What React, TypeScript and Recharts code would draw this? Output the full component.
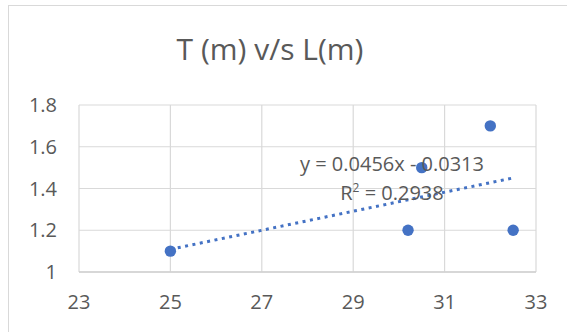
import { ScatterChart, Scatter, XAxis, YAxis, CartesianGrid } from 'recharts';

// measured lengths (x) vs periods (y)
const lengths = [25, 30.2, 30.5, 32, 32.5];
const periods = [1.1, 1.2, 1.5, 1.7, 1.2];

const xTicks = [23, 25, 27, 29, 31, 33];
const yTicks = [1, 1.2, 1.4, 1.6, 1.8];

// linear trendline as printed on the chart
const slope = 0.0456;
const intercept = -0.0313;
const trendRange = [25, 32.5];

const equationText = 'y = 0.0456x - 0.0313';
const r2Value = '0.2938';

const FONT = '"Open Sans", "Noto Sans", sans-serif';
const TEXT = '#595959';
const BLUE = '#4472C4';

const points = lengths.map((x, i) => ({ x, y: periods[i] }));
const trend = trendRange.map((x) => ({ x, y: slope * x + intercept }));

const Dot = (props: any) => {
  const { cx, cy } = props;
  if (cx == null || cy == null) return null;
  return <circle cx={cx} cy={cy} r={5.7} fill={BLUE} />;
};

export default function App() {
  return (
    <div
      style={{
        position: 'absolute',
        left: 0,
        top: 0,
        width: 567,
        height: 332,
        overflow: 'hidden',
        background: '#fff',
        fontFamily: FONT,
      }}
    >
      <div
        style={{
          position: 'absolute',
          left: 8,
          top: 5,
          width: 700,
          height: 500,
          border: '1.5px solid #d9d9d9',
        }}
      />
      <div
        style={{
          position: 'absolute',
          left: 0,
          width: 540,
          top: 28,
          textAlign: 'center',
          fontSize: 30,
          color: TEXT,
        }}
      >
        T (m) v/s L(m)
      </div>

      <div style={{ position: 'absolute', left: 0, top: 0 }}>
        <ScatterChart
          width={567}
          height={332}
          margin={{ top: 105, right: 31, bottom: 30, left: 0 }}
        >
          <CartesianGrid stroke="#d9d9d9" strokeWidth={1.2} />
          <XAxis
            type="number"
            dataKey="x"
            domain={[23, 33]}
            ticks={xTicks}
            height={30}
            tickLine={false}
            axisLine={{ stroke: '#d0d0d0', strokeWidth: 1.5 }}
            tickSize={0}
            tickMargin={23}
            tick={{ fill: TEXT, fontSize: 20, fontFamily: FONT }}
            allowDataOverflow
          />
          <YAxis
            type="number"
            dataKey="y"
            domain={[1, 1.8]}
            ticks={yTicks}
            width={79}
            tickLine={false}
            axisLine={false}
            tickSize={0}
            tickMargin={22}
            tick={{ fill: TEXT, fontSize: 20, fontFamily: FONT }}
            allowDataOverflow
          />
          <Scatter
            data={trend}
            line={{ stroke: BLUE, strokeWidth: 3, strokeDasharray: '3 4.5' }}
            shape={() => null}
            isAnimationActive={false}
          />
          <Scatter data={points} fill={BLUE} shape={Dot} isAnimationActive={false} />
        </ScatterChart>
      </div>

      <div
        style={{
          position: 'absolute',
          left: 262,
          width: 260,
          top: 149,
          textAlign: 'center',
          fontSize: 20,
          color: TEXT,
          lineHeight: '29px',
        }}
      >
        <div>{equationText}</div>
        <div>
          R<sup style={{ fontSize: 12, verticalAlign: 'super', lineHeight: 0 }}>2</sup> = {r2Value}
        </div>
      </div>
    </div>
  );
}
